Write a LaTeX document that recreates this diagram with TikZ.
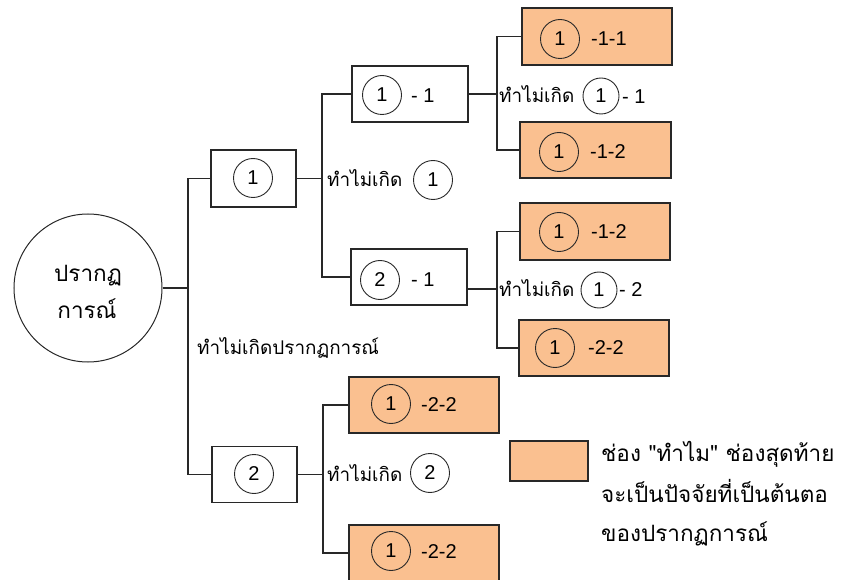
\documentclass[tikz,border=0pt]{standalone}
\usepackage{fontspec}
\newfontfamily\thaifont[Script=Thai]{Loma}
\newfontfamily\digfont{Liberation Sans}
\definecolor{boxorange}{RGB}{250,192,144}
\definecolor{lineg}{RGB}{40,40,40}
\begin{document}
\begin{tikzpicture}[x=1pt,y=-1pt,
  every node/.style={font=\thaifont\fontsize{18.9}{23}\selectfont, inner sep=0pt},
  big/.style={font=\thaifont\fontsize{22.5}{27}\selectfont},
  plain/.style={draw=lineg, line width=1.1pt, rectangle, fill=white},
  leaf/.style={draw=lineg, line width=1.1pt, rectangle, fill=boxorange},
  num/.style={draw=lineg, line width=0.9pt, circle, minimum size=39pt, font=\digfont\fontsize{20}{24}\selectfont},
  smallnum/.style={num, minimum size=36pt},
  dig/.style={anchor=west, font=\digfont\fontsize{20}{24}\selectfont},
  conn/.style={draw=lineg, line width=1.1pt},
  lbl/.style={anchor=base west}]
\useasboundingbox (0,0) rectangle (841,580);
\clip (0,0) rectangle (841,580);

% root
\node[draw=lineg, line width=1pt, circle, minimum size=148pt] (root) at (88,288) {};
\node[big, anchor=base] (r1) at (88,281) {ปรากฏ};
\node[big, anchor=base] (r2) at (87,318) {การณ์};

% level 1 boxes
\node[plain, minimum width=85pt, minimum height=57pt] (b1) at (253.5,178.5) {};
\node[plain, minimum width=85pt, minimum height=56pt] (b2) at (254.5,474.5) {};
% level 2 boxes
\node[plain, minimum width=116pt, minimum height=56pt] (b11) at (410,94) {};
\node[plain, minimum width=116pt, minimum height=56pt] (b21) at (409,277) {};
% leaf boxes
\node[leaf, minimum width=150pt, minimum height=57pt] (c111) at (597,36.5) {};
\node[leaf, minimum width=151pt, minimum height=56pt] (c112) at (595.5,150) {};
\node[leaf, minimum width=150pt, minimum height=57pt] (c121) at (595,231.5) {};
\node[leaf, minimum width=150pt, minimum height=56pt] (c122) at (594,348) {};
\node[leaf, minimum width=150pt, minimum height=56pt] (c21) at (424,405) {};
\node[leaf, minimum width=150pt, minimum height=56pt] (c22) at (424,553) {};

% junctions
\coordinate (j0) at (188,288);
\coordinate (j1) at (322,178.5);
\coordinate (j2) at (497,94);
\coordinate (j3) at (497,289);
\coordinate (j4) at (323,474.5);

% connectors
\draw[conn] (root.east) -- (j0);
\draw[conn] (j0) |- (b1.west);
\draw[conn] (j0) |- (b2.west);
\draw[conn] (b1.east) -- (j1);
\draw[conn] (j1) |- (b11.west);
\draw[conn] (j1) |- (b21.west);
\draw[conn] (b11.east) -- (j2);
\draw[conn] (j2) |- (c111.west);
\draw[conn] (j2) |- (c112.west);
\draw[conn] (b21.east |- j3) -- (j3);
\draw[conn] (j3) |- (c121.west);
\draw[conn] (j3) |- (c122.west);
\draw[conn] (b2.east) -- (j4);
\draw[conn] (j4) |- (c21.west);
\draw[conn] (j4) |- (c22.west);

% contents of boxes
\node[num] (n1) at (253,178) {1};
\node[num] (n11) at (382,95) {1};
\node[dig] (t11) at (411,96) {- 1};
\node[num] (n21) at (380,280) {2};
\node[dig] (t21) at (411,280) {- 1};
\node[num] (n111) at (560,39) {1};
\node[dig] (t111) at (591,39) {-1-1};
\node[num] (n112) at (559,152) {1};
\node[dig] (t112) at (590,152) {-1-2};
\node[num] (n121) at (559,232) {1};
\node[dig] (t121) at (591,232) {-1-2};
\node[num] (n122) at (555,348) {1};
\node[dig] (t122) at (588,348) {-2-2};
\node[num] (n2) at (254,474) {2};
\node[num] (n21b) at (391,404) {1};
\node[dig] (t21b) at (421,405) {-2-2};
\node[num] (n22b) at (391,551) {1};
\node[dig] (t22b) at (421,552) {-2-2};

% branch labels
\node[lbl] (L0) at (197,354) {ทำไม่เกิดปรากฏการณ์};
\node[lbl] (L1) at (327,187) {ทำไม่เกิด};
\node[num] (L1n) at (433,180) {1};
\node[lbl] (L2) at (499,103) {ทำไม่เกิด};
\node[smallnum] (L2n) at (601,96) {1};
\node[dig] (L2t) at (622,97) {- 1};
\node[lbl] (L3) at (499,297) {ทำไม่เกิด};
\node[smallnum] (L3n) at (599,290) {1};
\node[dig] (L3t) at (619,290) {- 2};
\node[lbl] (L4) at (327,481) {ทำไม่เกิด};
\node[num] (L4n) at (430,473) {2};

% legend
\node[leaf, minimum width=78pt, minimum height=40pt] (leg) at (549,461) {};
\node[lbl, big] (lg1) at (601,461) {ช่อง "ทำไม" ช่องสุดท้าย};
\node[lbl, big] (lg2) at (601,502) {จะเป็นปัจจัยที่เป็นต้นตอ};
\node[lbl, big] (lg3) at (601,541) {ของปรากฏการณ์};
\end{tikzpicture}
\end{document}
